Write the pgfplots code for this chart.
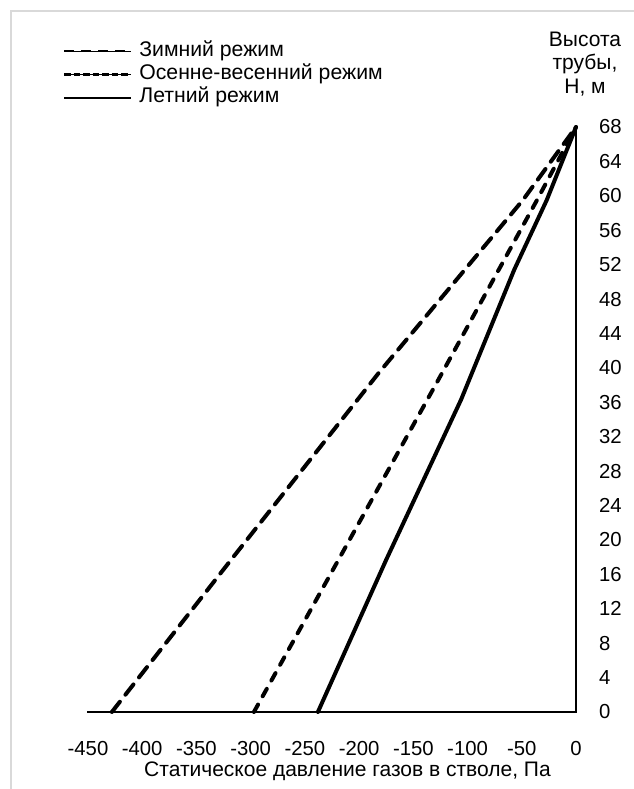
\documentclass[border=0pt]{standalone}
\usepackage{fontspec}
\setmainfont{Liberation Sans}
\usepackage{pgfplots}
\pgfplotsset{compat=1.18}
\definecolor{framegray}{RGB}{217,217,217}
\begin{document}
\begin{tikzpicture}[x=1pt,y=1pt]
\path[use as bounding box] (0,0) rectangle (633,789);
\draw[framegray, line width=2pt] (11,-20) -- (11,777.5) -- (660,777.5);
\begin{axis}[
  at={(88pt,77pt)}, anchor=south west,
  scale only axis, width=488pt, height=585pt,
  xmin=-450, xmax=0, ymin=0, ymax=68,
  axis x line*=bottom, axis y line*=right,
  axis line style={line width=2pt, -, line cap=rect},
  major tick length=0pt,
  tick style={draw=none},
  xtick={-450,-400,...,0},
  ytick={0,4,...,68},
  /pgf/number format/assume math mode=true,
  tick label style={font=\fontsize{20.3}{24}\selectfont},
  xticklabel style={anchor=north, inner sep=0pt, yshift=-29pt},
  yticklabel style={anchor=west, inner sep=0pt, xshift=23pt},
  clip=false,
  legend cell align=left,
  legend style={at={(rel axis cs:-0.05123,1.14530)}, anchor=north west,
    draw=none, fill=none, inner sep=0pt, outer sep=0pt,
    row sep=4.8pt, column sep=7pt,
    font=\fontsize{21.2}{24}\selectfont,
    nodes={inner sep=0pt, text height=14.3pt, text depth=4.2pt}},
]
% Winter
\addplot[line width=4pt, line cap=round, dash pattern=on 13pt off 9pt, forget plot]
  coordinates {(-428,0) (-318,17.7) (-182,39.4) (-49,59.5) (0,68)};
% Autumn-spring
\addplot[line width=4pt, line cap=round, dash pattern=on 8.5pt off 9.5pt, forget plot]
  coordinates {(-297,0) (-219,17.7) (-127,38.6) (-36,59.5) (0,68)};
% Summer
\addplot[line width=4pt, line cap=round, line join=round, forget plot]
  coordinates {(-238,0) (-175,17.7) (-106,36.3) (-57,51.4) (-27,59.5) (0,68)};

\addlegendimage{legend image code/.code={\path (0pt,0pt) -- (67pt,0pt);
  \draw[line width=2.4pt, dash pattern=on 10pt off 7pt] (0pt,0pt) -- (62pt,0pt);}}
\addlegendentry{Зимний режим}
\addlegendimage{legend image code/.code={\path (0pt,0pt) -- (67pt,0pt);
  \draw[line width=2.4pt, dash pattern=on 6.3pt off 3.2pt] (0pt,0pt) -- (64pt,0pt);}}
\addlegendentry{Осенне-весенний режим}
\addlegendimage{legend image code/.code={\path (0pt,0pt) -- (67pt,0pt);
  \draw[line width=2.4pt] (0pt,0pt) -- (67pt,0pt);}}
\addlegendentry{Летний режим}

\node[anchor=north, inner sep=0pt, align=center, font=\fontsize{21}{23.25}\selectfont]
  at (rel axis cs:1.0184,1.1624) {Высота\\трубы,\\Н, м};
\node[anchor=north, inner sep=0pt, font=\fontsize{21}{24}\selectfont]
  at (rel axis cs:0.5318,-0.08547) {Статическое давление газов в стволе, Па};
\end{axis}
\end{tikzpicture}
\end{document}
